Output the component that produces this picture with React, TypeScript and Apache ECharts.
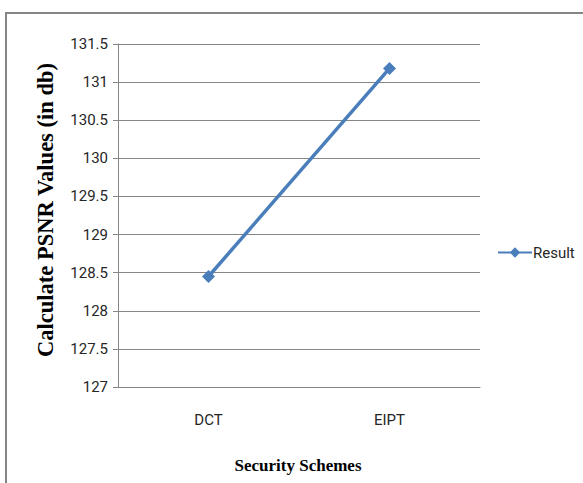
import React, { useEffect, useRef } from "react";
import * as echarts from "echarts";

const categories = ["DCT", "EIPT"];
const resultValues = [128.45, 131.18];
const seriesName = "Result";
const yTitle = "Calculate PSNR Values (in db)";
const xTitle = "Security Schemes";

export default function App() {
  const ref = useRef<HTMLDivElement>(null);
  useEffect(() => {
    document.body.style.margin = "0";
    const chart = echarts.init(ref.current!, null, { renderer: "svg" });
    const sans = "Roboto, 'Liberation Sans', sans-serif";
    const serif = "'Liberation Serif', 'Times New Roman', serif";
    chart.setOption({
      animation: false,
      backgroundColor: "#ffffff",
      grid: { left: 118, right: 103, top: 44, bottom: 96 },
      legend: {
        data: [seriesName],
        orient: "vertical",
        left: 492,
        top: 240,
        itemWidth: 34,
        itemHeight: 13,
        textStyle: { fontFamily: sans, fontSize: 15, color: "#262626", padding: [0, 0, 0, -4] },
      },
      xAxis: {
        type: "category",
        data: categories,
        boundaryGap: true,
        axisLine: { lineStyle: { color: "#868686", width: 1 } },
        axisTick: { show: false },
        axisLabel: { fontFamily: sans, fontSize: 15, color: "#262626", margin: 25 },
      },
      yAxis: {
        type: "value",
        min: 127,
        max: 131.5,
        interval: 0.5,
        axisLine: { show: true, lineStyle: { color: "#868686", width: 1 } },
        axisTick: { show: true, length: 5, lineStyle: { color: "#868686" } },
        splitLine: { lineStyle: { color: "#868686", width: 1 } },
        axisLabel: { fontFamily: sans, fontSize: 15, color: "#262626", margin: 10 },
      },
      series: [
        {
          name: seriesName,
          type: "line",
          data: resultValues,
          symbol: "diamond",
          symbolSize: 13,
          lineStyle: { color: "#4a7ebb", width: 3.5 },
          itemStyle: { color: "#4a7ebb" },
        },
      ],
      graphic: [
        {
          type: "rect",
          shape: { x: 6, y: 13, width: 700, height: 600 },
          style: { fill: "none", stroke: "#868686", lineWidth: 2 },
          silent: true,
        },
        {
          type: "text",
          x: 45,
          y: 210,
          rotation: Math.PI / 2,
          style: {
            text: yTitle,
            font: `bold 22.5px ${serif}`,
            fill: "#000000",
            align: "center",
            verticalAlign: "middle",
          },
        },
        {
          type: "text",
          x: 298,
          y: 465,
          style: {
            text: xTitle,
            font: `bold 17px ${serif}`,
            fill: "#000000",
            align: "center",
            verticalAlign: "middle",
          },
        },
      ],
    });
    return () => chart.dispose();
  }, []);
  return <div ref={ref} style={{ width: 583, height: 483 }} />;
}
